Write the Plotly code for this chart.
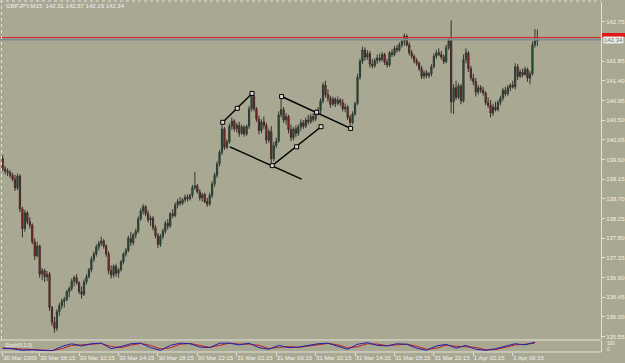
import plotly.graph_objects as go
import pandas as pd

# ---------------- data (GBPJPY, M15) ----------------
opens = [139.62,139.38,139.33,139.30,139.24,139.15,138.95,139.22,138.47,138.02,
         138.38,138.18,138.10,137.72,137.40,137.62,136.98,137.06,136.92,136.98,
         136.22,135.88,135.74,136.12,136.26,136.36,136.40,136.58,136.65,136.82,
         136.90,136.78,136.58,136.52,136.80,136.92,137.08,137.32,137.44,137.60,
         137.68,137.74,137.62,137.44,137.06,136.96,137.16,137.00,137.08,137.26,
         137.44,137.52,137.80,137.70,137.88,137.96,138.24,138.42,138.52,138.36,
         138.22,138.26,138.04,137.86,137.66,137.84,137.96,138.14,138.08,138.36,
         138.32,138.56,138.64,138.60,138.68,138.74,138.70,138.78,138.96,139.00,
         138.86,138.72,138.80,138.64,138.58,138.78,139.04,139.24,139.50,139.76,
         140.30,139.88,140.00,140.36,140.48,140.30,140.38,140.20,140.34,140.18,
         140.36,140.76,141.04,140.76,140.52,140.26,140.46,140.38,140.04,140.24,
         139.62,139.92,140.02,140.62,140.74,140.50,140.58,140.28,140.10,140.30,
         140.20,140.34,140.44,140.36,140.50,140.46,140.58,140.52,140.68,140.72,
         140.94,141.30,141.08,141.00,140.86,140.98,140.88,140.96,140.90,140.76,
         140.80,140.56,140.44,140.64,140.88,141.48,141.84,142.10,141.94,142.02,
         141.78,141.74,141.86,141.92,141.88,142.00,141.82,141.76,142.04,142.00,
         142.14,142.10,142.22,142.30,142.42,142.22,142.04,141.96,141.86,141.80,
         141.68,141.50,141.58,141.52,141.56,141.72,141.96,142.04,142.00,141.94,
         141.84,142.16,142.32,140.92,141.24,141.02,141.28,140.94,141.88,142.04,
         141.68,141.46,141.38,141.14,141.24,141.18,141.12,140.90,140.84,140.66,
         140.80,140.74,140.90,141.00,141.18,141.10,141.24,141.30,141.26,141.72,
         141.50,141.60,141.54,141.66,141.46,141.56,142.22,142.31]
highs = [139.70,139.45,139.40,139.36,139.30,139.25,139.28,139.26,138.52,138.45,
         138.42,138.28,138.14,137.80,137.72,137.65,137.12,137.10,137.05,137.03,
         136.25,136.00,136.18,136.32,136.42,136.46,136.62,136.70,136.88,136.95,
         136.98,136.82,136.70,136.86,136.98,137.12,137.38,137.50,137.66,137.74,
         137.84,137.78,137.66,137.50,137.18,137.20,137.22,137.12,137.30,137.48,
         137.58,137.86,137.94,137.92,138.02,138.30,138.48,138.58,138.56,138.44,
         138.32,138.30,138.10,137.92,137.90,138.02,138.20,138.24,138.40,138.46,
         138.62,138.70,138.74,138.72,138.80,138.80,138.82,139.02,139.32,139.04,
         138.92,138.84,138.84,138.72,138.84,139.10,139.30,139.56,139.82,140.46,
         140.34,140.06,140.42,140.56,140.52,140.44,140.46,140.40,140.38,140.40,
         140.82,141.12,141.08,140.80,140.60,140.52,140.58,140.44,140.30,140.36,
         140.00,140.10,140.70,141.04,140.80,140.66,140.62,140.40,140.34,140.38,
         140.40,140.52,140.50,140.56,140.62,140.64,140.66,140.74,140.80,141.00,
         141.36,141.40,141.20,141.06,141.04,141.02,141.04,141.00,140.98,140.88,
         140.84,140.62,140.70,140.92,141.56,141.90,142.18,142.16,142.10,142.08,
         141.90,141.92,142.00,142.02,142.06,142.04,141.90,142.08,142.12,142.20,
         142.22,142.28,142.34,142.48,142.46,142.28,142.10,142.00,141.92,141.84,
         141.74,141.64,141.64,141.60,141.78,142.02,142.10,142.14,142.08,142.00,
         142.22,142.40,142.78,141.32,141.40,141.34,141.32,142.00,142.14,142.08,
         141.74,141.56,141.46,141.30,141.30,141.26,141.16,141.02,140.96,140.88,
         140.92,140.96,141.06,141.24,141.26,141.30,141.34,141.40,141.80,141.78,
         141.66,141.68,141.72,141.70,141.62,142.30,142.58,142.57]
lows = [139.33,139.26,139.22,139.18,139.10,138.88,138.90,138.40,137.82,137.95,
        138.12,138.02,137.66,137.30,137.36,136.90,136.84,136.80,136.82,136.14,
        135.80,135.64,135.68,136.02,136.18,136.22,136.36,136.45,136.60,136.70,
        136.74,136.52,136.42,136.48,136.74,136.88,137.02,137.26,137.38,137.52,
        137.62,137.56,137.38,136.98,136.88,136.90,136.92,136.90,137.04,137.20,
        137.38,137.48,137.62,137.64,137.80,137.92,138.20,138.34,138.30,138.16,
        138.08,137.98,137.80,137.58,137.60,137.78,137.90,138.00,138.04,138.26,
        138.28,138.48,138.54,138.56,138.62,138.64,138.66,138.72,138.90,138.82,
        138.66,138.64,138.60,138.52,138.54,138.72,138.98,139.18,139.44,139.70,
        139.82,139.84,139.96,140.28,140.24,140.22,140.12,140.16,140.12,140.14,
        140.30,140.70,140.70,140.46,140.18,140.20,140.30,139.96,139.98,139.46,
        139.56,139.86,139.98,140.56,140.44,140.40,140.20,140.02,140.04,140.12,
        140.14,140.26,140.30,140.32,140.40,140.42,140.46,140.48,140.60,140.64,
        140.88,141.02,140.92,140.78,140.82,140.80,140.84,140.82,140.70,140.68,
        140.50,140.36,140.40,140.60,140.84,141.42,141.78,141.86,141.88,141.70,
        141.68,141.70,141.78,141.82,141.84,141.76,141.70,141.72,141.94,141.96,
        142.04,142.06,142.16,142.20,142.18,141.98,141.90,141.80,141.74,141.62,
        141.44,141.44,141.46,141.46,141.50,141.68,141.90,141.96,141.88,141.78,
        141.80,142.10,140.66,140.64,140.96,140.98,140.86,140.90,141.80,141.60,
        141.40,141.30,141.04,141.08,141.12,141.06,140.84,140.78,140.56,140.60,
        140.70,140.70,140.84,140.94,141.04,141.06,141.16,141.22,141.20,141.42,
        141.46,141.48,141.52,141.38,141.32,141.52,142.16,142.19]
closes = [139.38,139.33,139.30,139.24,139.15,138.95,139.22,138.47,138.02,138.38,
          138.18,138.10,137.72,137.40,137.62,136.98,137.06,136.92,136.98,136.22,
          135.88,135.74,136.12,136.26,136.36,136.40,136.58,136.65,136.82,136.90,
          136.78,136.58,136.52,136.80,136.92,137.08,137.32,137.44,137.60,137.68,
          137.74,137.62,137.44,137.06,136.96,137.16,137.00,137.08,137.26,137.44,
          137.52,137.80,137.70,137.88,137.96,138.24,138.42,138.52,138.36,138.22,
          138.26,138.04,137.86,137.66,137.84,137.96,138.14,138.08,138.36,138.32,
          138.56,138.64,138.60,138.68,138.74,138.70,138.78,138.96,139.00,138.86,
          138.72,138.80,138.64,138.58,138.78,139.04,139.24,139.50,139.76,140.30,
          139.88,140.00,140.36,140.48,140.30,140.38,140.20,140.34,140.18,140.36,
          140.76,141.04,140.76,140.52,140.26,140.46,140.38,140.04,140.24,139.62,
          139.92,140.02,140.62,140.74,140.50,140.58,140.28,140.10,140.30,140.20,
          140.34,140.44,140.36,140.50,140.46,140.58,140.52,140.68,140.72,140.94,
          141.30,141.08,141.00,140.86,140.98,140.88,140.96,140.90,140.76,140.80,
          140.56,140.44,140.64,140.88,141.48,141.84,142.10,141.94,142.02,141.78,
          141.74,141.86,141.92,141.88,142.00,141.82,141.76,142.04,142.00,142.14,
          142.10,142.22,142.30,142.42,142.22,142.04,141.96,141.86,141.80,141.68,
          141.50,141.58,141.52,141.56,141.72,141.96,142.04,142.00,141.94,141.84,
          142.16,142.32,140.92,141.24,141.02,141.28,140.94,141.88,142.04,141.68,
          141.46,141.38,141.14,141.24,141.18,141.12,140.90,140.84,140.66,140.80,
          140.74,140.90,141.00,141.18,141.10,141.24,141.30,141.26,141.72,141.50,
          141.60,141.54,141.66,141.46,141.56,142.22,142.31,142.34]

first_bar_time = "2009-03-30 02:30"
tick_times = ["2009-03-30 02:30", "2009-03-30 06:15", "2009-03-30 10:15", "2009-03-30 14:15",
              "2009-03-30 18:15", "2009-03-30 22:15", "2009-03-31 02:15", "2009-03-31 06:15",
              "2009-03-31 10:15", "2009-03-31 14:15", "2009-03-31 18:15", "2009-03-31 22:15",
              "2009-04-01 02:15", "2009-04-01 06:15"]
tick_text = ["30 Mar 2009", "30 Mar 06:15", "30 Mar 10:15", "30 Mar 14:15", "30 Mar 18:15",
             "30 Mar 22:15", "31 Mar 02:15", "31 Mar 06:15", "31 Mar 10:15", "31 Mar 14:15",
             "31 Mar 18:15", "31 Mar 22:15", "1 Apr 02:15", "1 Apr 06:15"]

price_ticks = [135.55, 136.00, 136.45, 136.90, 137.35, 137.80, 138.25, 138.70, 139.15,
               139.60, 140.05, 140.50, 140.95, 141.40, 141.85, 142.75]
price_tick_text = ["135.55", "136.00", "136.45", "136.90", "137.35", "137.80", "138.25", "138.70",
                   "139.15", "139.60", "140.05", "140.50", "140.95", "141.40", "141.85", "142.75"]

bid_price = 142.34
ask_price = 142.39
title_text = "GBPJPY,M15  142.31 142.57 142.19 142.34"

# hand-drawn trend lines (bar index, price)
trend_lines = [
    ([89.3, 101.2], [140.45, 141.11]),
    ([92.2, 121.3], [139.89, 139.15]),
    ([109.4, 129.2], [139.46, 140.35]),
    ([113.2, 141.2], [141.04, 140.31]),
]
anchor_bars = [89.3, 95.2, 101.2, 109.4, 119.3, 129.2, 113.2, 127.4, 141.2]
anchor_prices = [140.45, 140.77, 141.11, 139.46, 139.89, 140.35, 141.04, 140.68, 140.31]

# oscillator sub-window (sampled every 4 bars)
osc_main = [33, 30, 15, 20, 15, 10, 50, 75, 55, 75, 80, 30, 50, 75, 80, 40, 15, 60, 80, 75,
            45, 40, 80, 80, 65, 80, 40, 25, 60, 40, 45, 60, 75, 80, 50, 25, 70, 85, 60, 55,
            75, 70, 35, 15, 55, 70, 35, 60, 25, 15, 30, 55, 75, 65, 90]
osc_signal = [36, 32, 24, 18, 17, 13, 30, 60, 65, 68, 77, 50, 40, 62, 78, 60, 28, 38, 70, 78,
              60, 42, 60, 80, 72, 72, 60, 32, 42, 50, 42, 52, 68, 78, 65, 38, 48, 75, 72, 58,
              65, 72, 52, 25, 35, 62, 52, 48, 42, 20, 22, 42, 65, 70, 80]
osc_levels = ["100", "0"]

# ---------------- figure ----------------
W, H = 625, 363
BG = "#A9A893"
TXT = "#F2F2EA"
FRAME = "#E2E2DA"

times = pd.date_range(first_bar_time, periods=len(closes), freq="15min")
bars = list(range(len(closes)))
tick_idx = [times.get_loc(pd.Timestamp(t)) for t in tick_times]
osc_bars = list(range(0, len(closes), 4))

fig = go.Figure()
fig.add_trace(go.Candlestick(
    x=bars, open=opens, high=highs, low=lows, close=closes,
    increasing=dict(fillcolor="#17603A", line=dict(color="#2E3A32", width=1)),
    decreasing=dict(fillcolor="#C81818", line=dict(color="#3E2A28", width=1)),
    whiskerwidth=0, showlegend=False, hoverinfo="skip", xaxis="x", yaxis="y"))

for tx, ty in trend_lines:
    fig.add_trace(go.Scatter(x=tx, y=ty, mode="lines", line=dict(color="#000000", width=1.4),
                             showlegend=False, hoverinfo="skip", xaxis="x", yaxis="y"))
fig.add_trace(go.Scatter(x=anchor_bars, y=anchor_prices, mode="markers",
                         marker=dict(symbol="square", size=4, color="#D8D8D0",
                                     line=dict(color="#000000", width=1)),
                         showlegend=False, hoverinfo="skip", xaxis="x", yaxis="y"))

fig.add_trace(go.Scatter(x=osc_bars, y=osc_signal, mode="lines", line=dict(color="#C02020", width=1),
                         showlegend=False, hoverinfo="skip", xaxis="x", yaxis="y2"))
fig.add_trace(go.Scatter(x=osc_bars, y=osc_main, mode="lines", line=dict(color="#2020B0", width=1),
                         showlegend=False, hoverinfo="skip", xaxis="x", yaxis="y2"))

fig.add_hline(y=bid_price, line=dict(color="#80898E", width=2), yref="y")
fig.add_hline(y=ask_price, line=dict(color="#E02424", width=1), yref="y")

x_dom_end = 601 / W
px = lambda y: (H - y) / H

fig.update_layout(
    width=W, height=H, margin=dict(l=0, r=0, t=0, b=0),
    paper_bgcolor=BG, plot_bgcolor=BG,
    font=dict(family="Liberation Sans, Arial, sans-serif", size=6, color=TXT),
    xaxis=dict(domain=[0, x_dom_end], range=[-1.096, 242.82], anchor="y2",
               showgrid=False, zeroline=False, showline=False,
               tickmode="array", tickvals=tick_idx, ticktext=tick_text, tickangle=0,
               ticks="outside", ticklen=3, tickcolor=FRAME, tickwidth=1,
               ticklabelposition="outside right",
               tickfont=dict(size=6, color=TXT), rangeslider=dict(visible=False)),
    yaxis=dict(domain=[px(339), px(2)], range=[135.497, 143.20], side="right", anchor="x",
               showgrid=False, zeroline=False, showline=True, linecolor=FRAME, linewidth=1,
               tickmode="array", tickvals=price_ticks, ticktext=price_tick_text,
               ticks="outside", ticklen=3, tickcolor=FRAME,
               tickfont=dict(size=6, color=TXT)),
    yaxis2=dict(domain=[px(352), px(341)], range=[0, 100], side="right", anchor="x",
                showgrid=False, zeroline=False, showline=True, linecolor=FRAME, linewidth=1,
                showticklabels=False, ticks=""),
)

# window frame
fig.add_shape(type="line", xref="paper", yref="paper", x0=0, x1=x_dom_end, y0=px(340), y1=px(340),
              line=dict(color=FRAME, width=1))
fig.add_shape(type="line", xref="paper", yref="paper", x0=0, x1=x_dom_end, y0=px(352), y1=px(352),
              line=dict(color=FRAME, width=1))
fig.add_shape(type="line", xref="paper", yref="paper", x0=1.5 / W, x1=1.5 / W, y0=px(339), y1=px(1),
              line=dict(color=FRAME, width=1, dash="dot"))
fig.add_shape(type="line", xref="paper", yref="paper", x0=0, x1=x_dom_end, y0=px(1), y1=px(1),
              line=dict(color=FRAME, width=1, dash="dot"))

# price labels on the right axis
fig.add_shape(type="rect", xref="paper", yref="paper", x0=x_dom_end + 1 / W, x1=1,
              y0=px(37), y1=px(33), fillcolor="#E01818", line=dict(width=0))
fig.add_annotation(x=x_dom_end + 2 / W, y=bid_price, xref="paper", yref="y",
                   text=f"{bid_price:.2f}", showarrow=False, xanchor="left", yanchor="middle",
                   bgcolor="#ECECE6", borderpad=0, font=dict(size=6, color="#707070"))

# oscillator level labels
fig.add_annotation(x=x_dom_end + 4 / W, y=px(343), xref="paper", yref="paper", text=osc_levels[0],
                   showarrow=False, xanchor="left", yanchor="middle", font=dict(size=4.5, color=TXT))
fig.add_annotation(x=x_dom_end + 4 / W, y=px(349.5), xref="paper", yref="paper", text=osc_levels[1],
                   showarrow=False, xanchor="left", yanchor="middle", font=dict(size=4.5, color=TXT))

fig.add_annotation(x=4 / W, y=px(6), xref="paper", yref="paper", text=title_text,
                   showarrow=False, xanchor="left", yanchor="middle", font=dict(size=6, color=TXT))
fig.add_annotation(x=3 / W, y=px(344.5), xref="paper", yref="paper", text="Stoch(5,3,3)",
                   showarrow=False, xanchor="left", yanchor="middle", font=dict(size=5, color=TXT))

fig.write_html("out.html")
